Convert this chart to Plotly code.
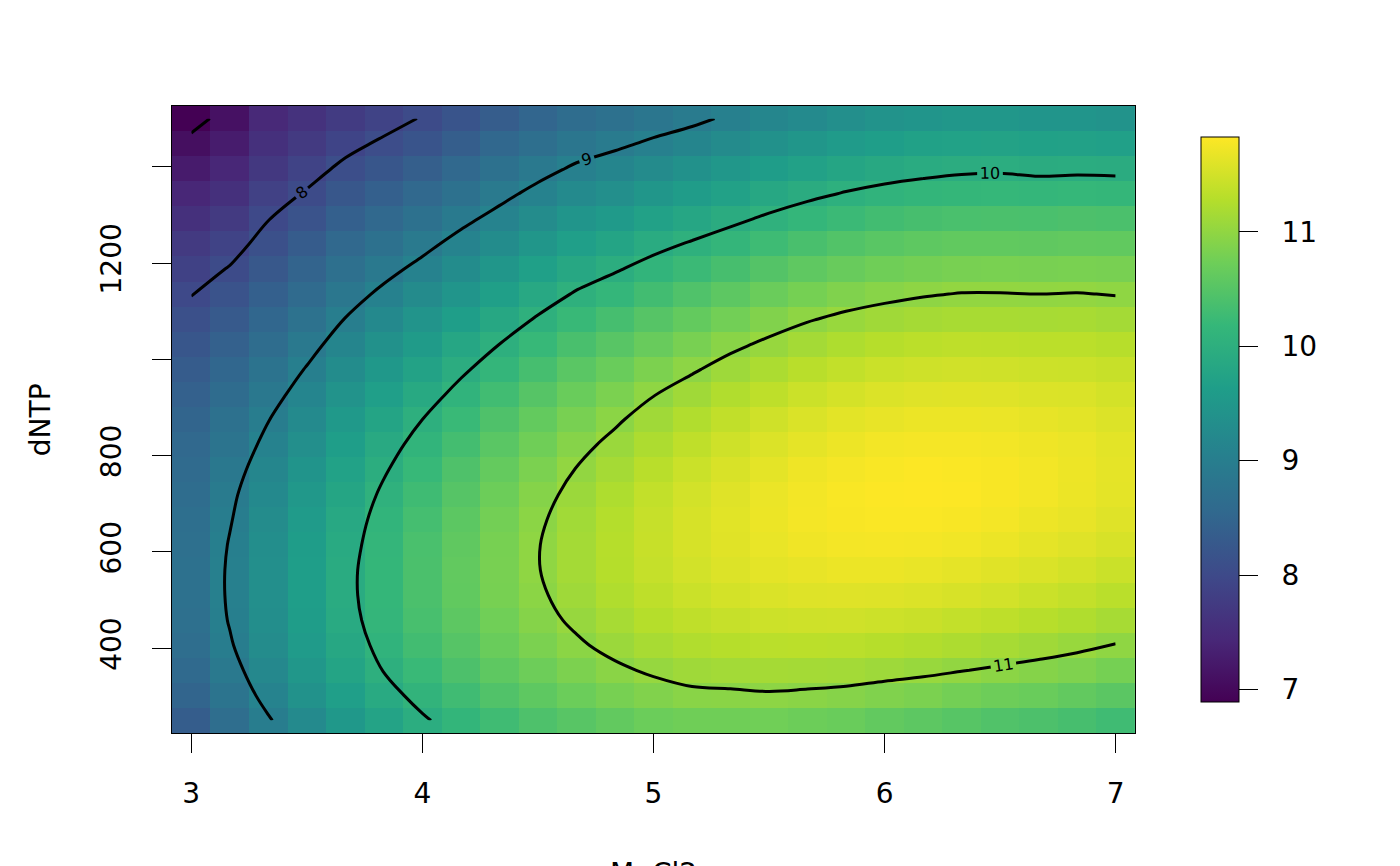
import plotly.graph_objects as go

# grid of the response surface (MgCl2 across, dNTP up)
mgcl2 = [3.0, 3.167, 3.333, 3.5, 3.667, 3.833, 4.0, 4.167, 4.333, 4.5, 4.667, 4.833, 5.0,
         5.167, 5.333, 5.5, 5.667, 5.833, 6.0, 6.167, 6.333, 6.5, 6.667, 6.833, 7.0]
dntp = [250, 302.1, 354.2, 406.3, 458.3, 510.4, 562.5, 614.6, 666.7, 718.8, 770.8, 822.9, 875,
        927.1, 979.2, 1031.3, 1083.3, 1135.4, 1187.5, 1239.6, 1291.7, 1343.8, 1395.8, 1447.9, 1500]

# one list per MgCl2 value, read bottom (dNTP=250) to top (dNTP=1500)
response_by_mgcl2 = [
    [8.35, 8.48, 8.58, 8.66, 8.71, 8.73, 8.73, 8.71, 8.69, 8.65, 8.61, 8.55, 8.48, 8.41, 8.32, 8.22, 8.11, 7.99, 7.86, 7.73, 7.58, 7.42, 7.26, 7.08, 6.89],
    [8.66, 8.79, 8.89, 8.97, 9.02, 9.04, 9.04, 9.02, 8.98, 8.94, 8.88, 8.80, 8.72, 8.63, 8.52, 8.41, 8.29, 8.16, 8.02, 7.88, 7.73, 7.58, 7.43, 7.27, 7.12],
    [8.97, 9.10, 9.20, 9.28, 9.33, 9.35, 9.35, 9.32, 9.28, 9.23, 9.16, 9.08, 8.99, 8.88, 8.77, 8.65, 8.52, 8.39, 8.26, 8.12, 7.99, 7.85, 7.71, 7.58, 7.45],
    [9.25, 9.39, 9.49, 9.57, 9.62, 9.64, 9.64, 9.61, 9.57, 9.51, 9.44, 9.35, 9.25, 9.14, 9.02, 8.89, 8.75, 8.61, 8.47, 8.32, 8.17, 8.03, 7.88, 7.74, 7.61],
    [9.52, 9.65, 9.76, 9.84, 9.89, 9.92, 9.92, 9.89, 9.85, 9.79, 9.72, 9.63, 9.53, 9.41, 9.29, 9.15, 9.01, 8.86, 8.71, 8.55, 8.39, 8.23, 8.07, 7.91, 7.75],
    [9.75, 9.89, 10.01, 10.09, 10.15, 10.17, 10.17, 10.15, 10.11, 10.05, 9.97, 9.88, 9.77, 9.65, 9.52, 9.38, 9.22, 9.07, 8.90, 8.73, 8.56, 8.39, 8.22, 8.05, 7.88],
    [9.96, 10.10, 10.22, 10.31, 10.37, 10.40, 10.40, 10.39, 10.34, 10.28, 10.20, 10.11, 10.00, 9.87, 9.73, 9.58, 9.43, 9.26, 9.09, 8.91, 8.73, 8.55, 8.37, 8.19, 8.02],
    [10.14, 10.29, 10.41, 10.50, 10.57, 10.61, 10.62, 10.60, 10.56, 10.50, 10.43, 10.33, 10.22, 10.09, 9.95, 9.80, 9.63, 9.46, 9.29, 9.11, 8.92, 8.73, 8.55, 8.36, 8.18],
    [10.29, 10.45, 10.58, 10.68, 10.75, 10.80, 10.81, 10.80, 10.77, 10.71, 10.64, 10.54, 10.43, 10.30, 10.15, 10.00, 9.83, 9.66, 9.48, 9.29, 9.10, 8.91, 8.72, 8.53, 8.34],
    [10.42, 10.58, 10.72, 10.83, 10.91, 10.96, 10.99, 10.99, 10.96, 10.91, 10.83, 10.74, 10.63, 10.50, 10.35, 10.20, 10.03, 9.85, 9.67, 9.48, 9.28, 9.09, 8.89, 8.69, 8.50],
    [10.52, 10.70, 10.84, 10.96, 11.05, 11.11, 11.15, 11.15, 11.13, 11.08, 11.01, 10.92, 10.81, 10.68, 10.54, 10.38, 10.21, 10.03, 9.84, 9.65, 9.45, 9.25, 9.05, 8.84, 8.65],
    [10.62, 10.80, 10.95, 11.08, 11.17, 11.24, 11.28, 11.29, 11.27, 11.23, 11.16, 11.07, 10.96, 10.83, 10.68, 10.52, 10.35, 10.16, 9.97, 9.77, 9.56, 9.35, 9.15, 8.94, 8.73],
    [10.70, 10.88, 11.04, 11.18, 11.28, 11.35, 11.40, 11.42, 11.41, 11.38, 11.31, 11.22, 11.12, 10.99, 10.84, 10.67, 10.50, 10.31, 10.11, 9.91, 9.70, 9.48, 9.27, 9.05, 8.84],
    [10.74, 10.94, 11.11, 11.25, 11.36, 11.44, 11.50, 11.53, 11.53, 11.50, 11.44, 11.36, 11.25, 11.12, 10.97, 10.81, 10.63, 10.44, 10.24, 10.03, 9.81, 9.59, 9.37, 9.15, 8.93],
    [10.74, 10.95, 11.14, 11.29, 11.41, 11.51, 11.58, 11.61, 11.62, 11.60, 11.55, 11.47, 11.37, 11.25, 11.10, 10.94, 10.76, 10.57, 10.36, 10.15, 9.93, 9.71, 9.49, 9.27, 9.05],
    [10.75, 10.97, 11.16, 11.32, 11.46, 11.56, 11.64, 11.68, 11.70, 11.69, 11.64, 11.57, 11.48, 11.35, 11.21, 11.05, 10.88, 10.69, 10.48, 10.27, 10.05, 9.83, 9.61, 9.38, 9.16],
    [10.71, 10.95, 11.15, 11.33, 11.47, 11.59, 11.67, 11.73, 11.76, 11.75, 11.72, 11.65, 11.56, 11.45, 11.31, 11.15, 10.98, 10.79, 10.59, 10.38, 10.16, 9.93, 9.71, 9.48, 9.25],
    [10.68, 10.92, 11.14, 11.32, 11.48, 11.60, 11.70, 11.76, 11.79, 11.80, 11.77, 11.71, 11.63, 11.52, 11.38, 11.23, 11.06, 10.87, 10.67, 10.46, 10.24, 10.02, 9.79, 9.57, 9.34],
    [10.62, 10.87, 11.10, 11.29, 11.46, 11.59, 11.70, 11.77, 11.81, 11.82, 11.80, 11.75, 11.67, 11.57, 11.44, 11.29, 11.12, 10.93, 10.74, 10.53, 10.31, 10.09, 9.86, 9.63, 9.41],
    [10.57, 10.83, 11.06, 11.26, 11.43, 11.57, 11.68, 11.76, 11.81, 11.83, 11.82, 11.77, 11.70, 11.60, 11.47, 11.33, 11.16, 10.98, 10.78, 10.58, 10.36, 10.14, 9.91, 9.69, 9.46],
    [10.51, 10.77, 11.01, 11.22, 11.39, 11.54, 11.65, 11.74, 11.79, 11.82, 11.81, 11.77, 11.70, 11.61, 11.49, 11.35, 11.18, 11.01, 10.81, 10.61, 10.39, 10.17, 9.95, 9.72, 9.50],
    [10.45, 10.72, 10.96, 11.17, 11.35, 11.50, 11.61, 11.70, 11.76, 11.79, 11.79, 11.75, 11.69, 11.60, 11.48, 11.34, 11.18, 11.01, 10.82, 10.61, 10.40, 10.18, 9.96, 9.73, 9.50],
    [10.41, 10.68, 10.91, 11.12, 11.30, 11.44, 11.56, 11.65, 11.71, 11.75, 11.75, 11.72, 11.66, 11.57, 11.46, 11.33, 11.17, 11.00, 10.81, 10.60, 10.39, 10.16, 9.93, 9.69, 9.45],
    [10.36, 10.62, 10.86, 11.06, 11.24, 11.39, 11.51, 11.60, 11.67, 11.70, 11.71, 11.69, 11.63, 11.56, 11.45, 11.33, 11.18, 11.01, 10.82, 10.62, 10.41, 10.18, 9.94, 9.70, 9.45],
    [10.29, 10.55, 10.79, 10.99, 11.17, 11.32, 11.44, 11.54, 11.60, 11.64, 11.65, 11.63, 11.58, 11.51, 11.42, 11.30, 11.15, 10.99, 10.81, 10.61, 10.40, 10.17, 9.93, 9.68, 9.42],
]

y_ticks = [400, 600, 800, 1000, 1200, 1400]
y_labels = ["400", "600", "800", "", "1200", ""]
bar_ticks = [7, 8, 9, 10, 11]
bar_labels = ["\u2007" + str(t) for t in bar_ticks]  # pushes labels off the ticks like R does

# heatmap wants rows = dNTP
z = [list(r) for r in zip(*response_by_mgcl2)]

fig = go.Figure()
fig.add_trace(go.Heatmap(
    x=mgcl2, y=dntp, z=z,
    colorscale="Viridis",
    colorbar=dict(
        x=1.0685, xanchor="left", xpad=0,
        y=0.5, yanchor="middle", ypad=0,
        len=0.901, thickness=38,
        outlinecolor="black", outlinewidth=1,
        tickvals=bar_ticks, ticktext=bar_labels, ticks="outside", ticklen=19,
        tickcolor="black", tickfont=dict(size=28),
    ),
))
fig.add_trace(go.Contour(
    x=mgcl2, y=dntp, z=z,
    contours=dict(start=7, end=11, size=1, coloring="none",
                  showlabels=True, labelfont=dict(size=16, color="black")),
    line=dict(color="black", width=3),
    showscale=False, hoverinfo="skip",
))

fig.update_xaxes(
    range=[2.9167, 7.0833], tickvals=[3, 4, 5, 6, 7],
    ticks="outside", ticklen=19, tickcolor="black",
    showline=True, mirror=True, linecolor="black", linewidth=1,
    showgrid=False, zeroline=False, ticklabelstandoff=16,
)
fig.update_yaxes(
    range=[223.96, 1526.04], tickvals=y_ticks, ticktext=y_labels, tickangle=-90,
    ticks="outside", ticklen=19, tickcolor="black",
    showline=True, mirror=True, linecolor="black", linewidth=1,
    showgrid=False, zeroline=False, ticklabelstandoff=20,
)

fig.add_annotation(text="dNTP", xref="paper", yref="paper", x=-0.1556, y=0.5,
                   textangle=-90, showarrow=False, font=dict(size=28))
fig.add_annotation(text="MgCl2", xref="paper", yref="paper", x=0.5, y=-0.2233,
                   yanchor="middle", showarrow=False, font=dict(size=28))

# page body adds 8px, so margins are trimmed by that much
fig.update_layout(
    width=1400, height=866,
    margin=dict(l=164, r=273, t=98, b=141),
    plot_bgcolor="white", paper_bgcolor="white",
    font=dict(family="DejaVu Sans", size=28, color="black"),
    showlegend=False,
)

fig.write_html("out.html")
